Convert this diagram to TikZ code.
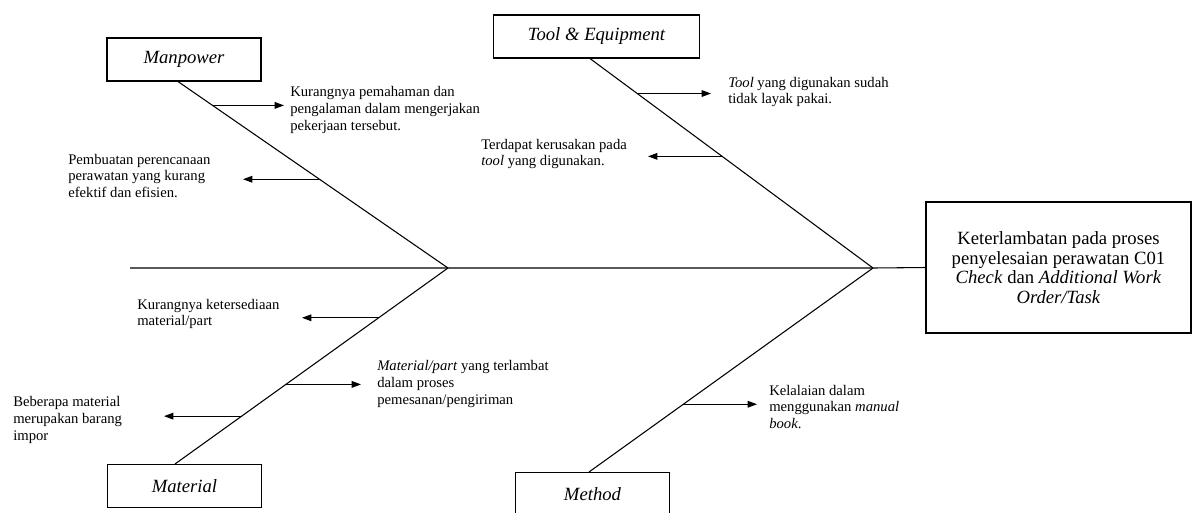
\documentclass[tikz,border=0pt]{standalone}
\usepackage{fontspec}
\setmainfont{Liberation Serif}
\usetikzlibrary{arrows.meta}

\begin{document}
\begin{tikzpicture}[x=0.75pt, y=-0.75pt,
		bone/.style={line width=0.8pt},
		cat/.style={draw, line width=0.8pt, minimum width=#1, minimum height=32.25pt, font=\fontsize{14}{16}\selectfont\itshape},
		cause/.style={anchor=west, align=left, inner sep=0pt, font=\fontsize{11}{12.6}\selectfont},
		arr/.style={line width=0.8pt, -{Triangle[length=7pt, width=5pt]}}]
			%%%%% START %%%%%
			
			\useasboundingbox (0, 0) rectangle (1192, 512);
			
			\node[draw, line width=0.8pt, minimum width=198.75pt, minimum height=98.25pt, align=center, font=\fontsize{14}{14.8}\selectfont] (eff) at (1058.5, 267.5) {Keterlambatan pada proses\\penyelesaian perawatan C01\\\textit{Check} dan \textit{Additional Work}\\\textit{Order/Task}};
			
			\node[cat=115.5pt] (man) at (184, 59.5) {Manpower};
			\node[cat=155pt] (tool) at (596.5, 36.5) {Tool \& Equipment};
			\node[cat=116pt] (mat) at (184.5, 486) {Material};
			\node[cat=116pt] (meth) at (592.5, 494) {Method};
			
			\coordinate (tail) at (130, 268);
			\coordinate (j1) at (448, 268);
			\coordinate (j2) at (873, 268);
			\draw[bone] (tail) -- (j1) -- (j2) -- (eff.west);
			
			\draw[bone] ([xshift=-4.5pt]man.south) -- (j1) coordinate[pos=0.128] (m1) coordinate[pos=0.524] (m2);
			\draw[bone] ([xshift=-4.9pt]tool.south) -- (j2) coordinate[pos=0.167] (t1) coordinate[pos=0.467] (t2);
			\draw[bone] ([xshift=-7.1pt]mat.north) -- (j1) coordinate[pos=0.244] (a3) coordinate[pos=0.406] (a2) coordinate[pos=0.746] (a1);
			\draw[bone] ([xshift=-2.6pt]meth.north) -- (j2) coordinate[pos=0.332] (d1);
			
			\node[cause] (k1) at (290, 110) {Kurangnya pemahaman dan\\pengalaman dalam mengerjakan\\pekerjaan tersebut.};
			\node[cause] (k2) at (68, 176) {Pembuatan perencanaan\\perawatan yang kurang\\efektif dan efisien.};
			\node[cause] (k3) at (728, 92) {\textit{Tool} yang digunakan sudah\\tidak layak pakai.};
			\node[cause] (k4) at (481, 154) {Terdapat kerusakan pada\\\textit{tool} yang digunakan.};
			\node[cause] (k5) at (137, 314) {Kurangnya ketersediaan\\material/part};
			\node[cause] (k6) at (377, 384) {\textit{Material/part} yang terlambat\\dalam proses\\pemesanan/pengiriman};
			\node[cause] (k7) at (13, 420) {Beberapa material\\merupakan barang\\impor};
			\node[cause] (k8) at (769, 407) {Kelalaian dalam\\menggunakan \textit{manual}\\\textit{book}.};
			
			\coordinate (m1e) at (284, 105);
			\coordinate (m2e) at (243, 179);
			\coordinate (t1e) at (711, 93);
			\coordinate (t2e) at (648, 156);
			\coordinate (a1e) at (302, 318);
			\coordinate (a2e) at (361, 385);
			\coordinate (a3e) at (164, 417);
			\coordinate (d1e) at (757, 405);
			
			\draw[arr] (m1) -- (m1 -| m1e);
			\draw[arr] (m2) -- (m2 -| m2e);
			\draw[arr] (t1) -- (t1 -| t1e);
			\draw[arr] (t2) -- (t2 -| t2e);
			\draw[arr] (a1) -- (a1 -| a1e);
			\draw[arr] (a2) -- (a2 -| a2e);
			\draw[arr] (a3) -- (a3 -| a3e);
			\draw[arr] (d1) -- (d1 -| d1e);
			
			%%%%% END %%%%%
\end{tikzpicture}
\end{document}
